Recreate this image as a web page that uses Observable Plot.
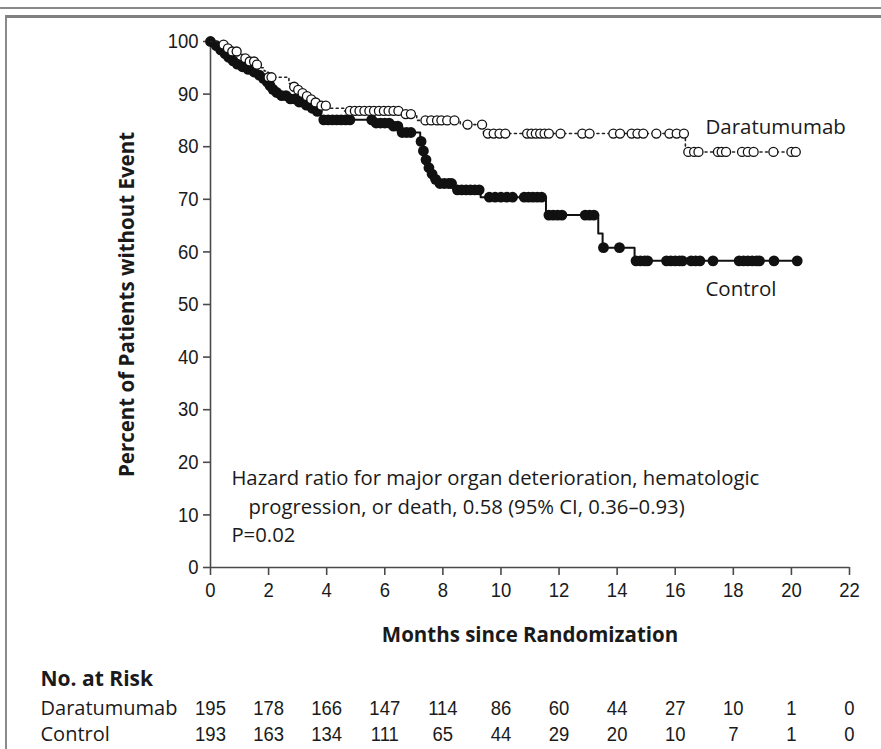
<!DOCTYPE html>
<html><head><meta charset="utf-8">
<script src="https://cdn.jsdelivr.net/npm/d3@7"></script>
<script src="https://cdn.jsdelivr.net/npm/@observablehq/plot@0.6"></script>
<style>
body{margin:0;background:#fff;width:881px;height:749px;overflow:hidden;position:relative;font-family:"Open Sans",sans-serif}
#topline{position:absolute;left:0;top:7px;width:881px;height:2px;background:#8a8a8a}
#frame{position:absolute;left:5px;top:15px;width:880px;height:760px;border-top:3px solid #808080;border-left:2px solid #8a8a8a;box-sizing:border-box}
#chart{position:absolute;left:0;top:0}
#risk{position:absolute;left:0;top:655px}
svg{overflow:visible}
</style></head><body>
<div id="topline"></div><div id="frame"></div>
<div id="chart"></div><div id="risk"></div>
<script>
// ---- Data ----
const xTicks = [0, 2, 4, 6, 8, 10, 12, 14, 16, 18, 20, 22];
const yTicks = [0, 10, 20, 30, 40, 50, 60, 70, 80, 90, 100];

// Control: Kaplan-Meier step points (time in months, percent)
const ctrlStepT = [0, 0.12, 0.25, 0.4, 0.55, 0.7, 0.85, 1.0, 1.2, 1.4, 1.6, 1.75, 1.9, 2.0, 2.1, 2.2, 2.35, 2.65, 2.95, 3.2, 3.4, 3.6, 3.8, 5.6, 6.2, 6.55, 7.22, 7.3, 7.38, 7.47, 7.58, 7.7, 7.8, 8.4, 9.3, 11.55, 13.35, 13.5, 14.6, 20.2];
const ctrlStepV = [100, 99.2, 98.4, 97.7, 97.0, 96.3, 95.7, 95.2, 94.7, 94.2, 93.6, 93.0, 92.3, 91.6, 90.9, 90.3, 89.7, 89.1, 88.5, 87.9, 87.3, 86.7, 85.1, 84.5, 83.9, 82.7, 81.0, 79.2, 77.5, 76.0, 74.8, 73.8, 73.0, 71.8, 70.4, 67.0, 63.5, 60.8, 58.3, 58.3];
// Control: censoring marks (months)
const ctrlCensorT = [0, 0.2, 0.35, 0.5, 0.62, 0.78, 0.92, 1.1, 1.3, 1.5, 1.68, 1.82, 1.95, 2.05, 2.15, 2.28, 2.45, 2.6, 2.75, 2.9, 3.05, 3.15, 3.3, 3.5, 3.68, 3.9, 4.05, 4.2, 4.35, 4.5, 4.65, 4.8, 5.55, 5.7, 5.85, 6.0, 6.15, 6.3, 6.45, 6.6, 6.75, 6.9, 7.25, 7.33, 7.42, 7.52, 7.63, 7.75, 7.9, 8.05, 8.2, 8.3, 8.5, 8.65, 8.8, 8.95, 9.1, 9.25, 9.6, 9.8, 10.0, 10.2, 10.4, 10.8, 10.95, 11.1, 11.25, 11.4, 11.65, 11.8, 11.95, 12.1, 12.9, 13.05, 13.2, 13.53, 14.08, 14.65, 14.8, 14.95, 15.05, 15.7, 15.85, 16.0, 16.15, 16.25, 16.55, 16.7, 16.85, 17.3, 18.2, 18.35, 18.5, 18.65, 18.8, 18.9, 19.4, 20.2];

// Daratumumab: Kaplan-Meier step points
const daraStepT = [0, 0.3, 0.55, 0.75, 0.95, 1.15, 1.35, 1.55, 1.7, 1.85, 1.98, 2.7, 2.85, 3.0, 3.15, 3.3, 3.45, 3.6, 3.8, 4.1, 4.6, 6.65, 7.1, 8.6, 9.4, 16.35, 20.15];
const daraStepV = [100, 99.4, 98.7, 98.1, 97.5, 96.8, 96.2, 95.6, 95.0, 94.4, 93.2, 92.0, 91.4, 90.8, 90.2, 89.6, 89.0, 88.4, 87.8, 87.3, 86.8, 86.2, 85.0, 84.2, 82.5, 79.0, 79.0];
// Daratumumab: censoring marks
const daraCensorT = [0.45, 0.6, 0.75, 0.9, 1.2, 1.35, 1.5, 1.6, 2.0, 2.1, 2.88, 3.02, 3.17, 3.32, 3.47, 3.62, 3.82, 3.97, 4.8, 4.97, 5.13, 5.3, 5.47, 5.63, 5.8, 5.97, 6.13, 6.3, 6.47, 6.72, 6.9, 7.4, 7.6, 7.8, 7.95, 8.15, 8.4, 8.85, 9.35, 9.55, 9.75, 9.95, 10.15, 10.9, 11.05, 11.2, 11.35, 11.5, 11.65, 12.05, 12.8, 13.05, 13.87, 14.1, 14.5, 14.7, 14.9, 15.35, 15.8, 16.05, 16.3, 16.45, 16.65, 16.8, 17.47, 17.6, 17.75, 18.3, 18.5, 18.7, 19.38, 20.0, 20.15];

// Number at risk
const riskGroups = ["Daratumumab", "Control"];
const riskTimes = [0, 2, 4, 6, 8, 10, 12, 14, 16, 18, 20, 22];
const riskDara = [195, 178, 166, 147, 114, 86, 60, 44, 27, 10, 1, 0];
const riskCtrl = [193, 163, 134, 111, 65, 44, 29, 20, 10, 7, 1, 0];

// ---- Build tables ----
const toSteps = (T, V) => T.map((t, i) => ({t, v: V[i]}));
const stepAt = (T, V, t) => { let k = 0; for (let i = 0; i < T.length; i++) if (T[i] <= t) k = i; return V[k]; };
const ctrlSteps = toSteps(ctrlStepT, ctrlStepV);
const daraSteps = toSteps(daraStepT, daraStepV);
const ctrlCens = ctrlCensorT.map(t => ({t, v: stepAt(ctrlStepT, ctrlStepV, t)}));
const daraCens = daraCensorT.map(t => ({t, v: stepAt(daraStepT, daraStepV, t)}));
const riskRows = [
  ...riskTimes.map((t, i) => ({t, g: "Daratumumab", n: riskDara[i]})),
  ...riskTimes.map((t, i) => ({t, g: "Control", n: riskCtrl[i]}))
];

const numFont = '"Liberation Sans", Arial, sans-serif';
const sans = '"Open Sans", "Noto Sans", sans-serif';
const ink = "#1a1a1a";
const axisCol = "#4a4a4a";

const chart = Plot.plot({
  width: 881, height: 660,
  marginLeft: 210, marginRight: 32, marginTop: 41, marginBottom: 93,
  x: {domain: [0, 22]},
  y: {domain: [0, 100]},
  style: {background: "transparent", overflow: "visible"},
  marks: [
    Plot.ruleX([0], {stroke: axisCol, strokeWidth: 1.6}),
    Plot.ruleY([0], {stroke: axisCol, strokeWidth: 1.6}),
    Plot.axisY({ticks: yTicks, tickSize: 7, tickPadding: 5, tickFormat: d => String(d), fontSize: 21, fontFamily: numFont, fill: ink, stroke: axisCol, strokeWidth: 1.6, label: null, className: "narrow"}),
    Plot.axisX({ticks: xTicks, tickSize: 8, tickPadding: 7, tickFormat: d => String(d), fontSize: 21, fontFamily: numFont, fill: ink, stroke: axisCol, strokeWidth: 1.6, label: null, className: "narrow"}),
    Plot.text(["Percent of Patients without Event"], {frameAnchor: "left", dx: -83, rotate: -90, textAnchor: "middle", lineAnchor: "middle", fontSize: 20.5, fontWeight: "bold", fontFamily: sans, fill: ink}),
    Plot.text(["Months since Randomization"], {frameAnchor: "bottom", dy: 68, textAnchor: "middle", lineAnchor: "middle", fontSize: 20.5, fontWeight: "bold", fontFamily: sans, fill: ink}),
    // Control curve
    Plot.line(ctrlSteps, {x: "t", y: "v", curve: "step-after", stroke: "#111", strokeWidth: 2}),
    Plot.dot(ctrlCens, {x: "t", y: "v", r: 5.4, fill: "#111", stroke: "none"}),
    // Daratumumab curve
    Plot.line(daraSteps, {x: "t", y: "v", curve: "step-after", stroke: "#222", strokeWidth: 1.6, strokeDasharray: "2,3.5"}),
    Plot.dot(daraCens, {x: "t", y: "v", r: 4.5, fill: "white", stroke: "#111", strokeWidth: 1.3}),
    // Labels
    Plot.text(["Daratumumab"], {x: 17.04, y: 83.6, textAnchor: "start", fontSize: 20.5, fontFamily: sans, fill: ink}),
    Plot.text(["Control"], {x: 17.04, y: 52.9, textAnchor: "start", fontSize: 20.5, fontFamily: sans, fill: ink}),
    Plot.text(["Hazard ratio for major organ deterioration, hematologic"], {x: 0.72, y: 16.9, textAnchor: "start", fontSize: 20.3, fontFamily: sans, fill: ink}),
    Plot.text(["progression, or death, 0.58 (95% CI, 0.36\u20130.93)"], {x: 1.31, y: 11.4, textAnchor: "start", fontSize: 20.3, fontFamily: sans, fill: ink}),
    Plot.text(["P=0.02"], {x: 0.72, y: 6.1, textAnchor: "start", fontSize: 20.3, fontFamily: sans, fill: ink})
  ]
});
document.getElementById("chart").appendChild(chart);

const risk = Plot.plot({
  width: 881, height: 94,
  marginLeft: 210, marginRight: 32, marginTop: 10, marginBottom: 6,
  x: {domain: [0, 22], axis: null},
  y: {type: "point", domain: riskGroups, range: [53, 79], padding: 0, axis: null},
  style: {background: "transparent", overflow: "visible"},
  marks: [
    Plot.text(["No. at Risk"], {frameAnchor: "top-left", dx: -170, dy: 14, textAnchor: "start", lineAnchor: "middle", fontSize: 21, fontWeight: "bold", fontFamily: sans, fill: ink}),
    Plot.text(riskGroups, {y: d => d, frameAnchor: "left", dx: -170, textAnchor: "start", lineAnchor: "middle", fontSize: 20, fontFamily: sans, fill: ink}),
    Plot.text(riskRows, {x: "t", y: "g", text: "n", lineAnchor: "middle", fontSize: 21, fontFamily: numFont, fill: ink, className: "narrow"})
  ]
});
document.getElementById("risk").appendChild(risk);

// condense the numeric labels horizontally (the reference uses a condensed face)
const SX = 0.88;
document.querySelectorAll("g[class*='narrow'] text").forEach(el => {
  const t = el.getAttribute("transform");
  const x = el.getAttribute("x");
  if (x != null) el.setAttribute("x", +x / SX);
  el.setAttribute("transform", (t ? t + " " : "") + `scale(${SX},1)`);
});
</script></body></html>
